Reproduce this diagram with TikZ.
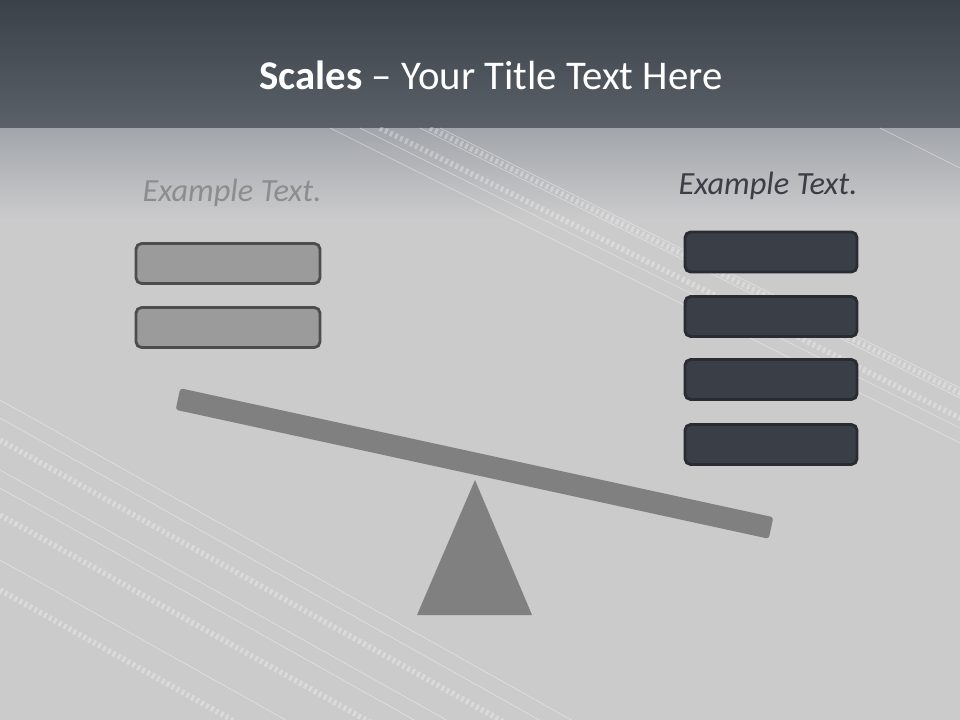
\documentclass[tikz,border=0pt]{standalone}
\usepackage{fontspec}
\setmainfont{Carlito}
\definecolor{titletop}{HTML}{3B4148}
\definecolor{titlebot}{HTML}{5B6169}
\definecolor{bgtop}{HTML}{A2A6AB}
\definecolor{bgmain}{HTML}{CBCBCC}
\definecolor{lightfill}{HTML}{9B9B9B}
\definecolor{lightline}{HTML}{4D4D4D}
\definecolor{darkfill}{HTML}{3A3E46}
\definecolor{darkline}{HTML}{292C31}
\definecolor{scalegray}{HTML}{808080}
\tikzset{
    lightbox/.style={draw=lightline, fill=lightfill, line width=2pt, rounded corners=4pt,
        minimum width=4.6cm, minimum height=1cm, inner sep=0pt},
    darkbox/.style={draw=darkline, fill=darkfill, line width=2pt, rounded corners=4pt,
        minimum width=4.3cm, minimum height=1cm, inner sep=0pt},
    beam/.style={fill=scalegray, rounded corners=2pt, minimum width=15.17cm,
        minimum height=0.55cm, inner sep=0pt},
    streak/.style={white, opacity=0.35, line width=0.6pt},
    tread/.style={white, opacity=0.3, line width=4pt, dash pattern=on 2pt off 2pt}
}
\begin{document}
\begin{tikzpicture}[x=0.025cm, y=-0.025cm]
    % background
    \fill[bgmain] (0,0) rectangle (960,720);
    \shade[top color=bgtop, bottom color=bgmain] (0,128) rectangle (960,220);
    \shade[top color=titletop, bottom color=titlebot] (0,0) rectangle (960,128);
    \begin{scope}
        \clip (0,128) rectangle (960,720);
        \foreach \o in {400,418,470,488,560} {
            \draw[streak] (0,\o) -- ++(700,392);
        }
        \foreach \o in {440,515,590} {
            \draw[tread] (0,\o) -- ++(700,392);
        }
        \foreach \o in {330,360,420,440} {
            \draw[streak] (\o,128) -- ++(700,350);
        }
        \foreach \o in {380,430} {
            \draw[tread] (\o,128) -- ++(700,350);
        }
        \draw[streak] (880,128) -- ++(100,50);
    \end{scope}
    \useasboundingbox (0,0) rectangle (960,720);

    % title
    \node[white, font=\fontsize{29}{34}\selectfont] (title) at (491,75)
        {\textbf{Scales} -- Your Title Text Here};

    % left pan
    \node[font=\fontsize{23}{28}\selectfont\itshape, text=scalegray!90] (ltext) at (232,193) {Example Text.};
    \node[lightbox] (l1) at (228,263.5) {};
    \node[lightbox] (l2) at (228,327.5) {};

    % right pan
    \node[font=\fontsize{23}{28}\selectfont\itshape, text=darkfill] (rtext) at (768,186) {Example Text.};
    \node[darkbox] (r1) at (771,252) {};
    \node[darkbox] (r2) at (771,316.5) {};
    \node[darkbox] (r3) at (771,379.5) {};
    \node[darkbox] (r4) at (771,444.5) {};

    % scale
    \coordinate (apex) at (475,480);
    \coordinate (baseL) at (417,615);
    \coordinate (baseR) at (532,615);
    \fill[scalegray] (apex) -- (baseL) -- (baseR) -- cycle;
    \node[beam, rotate=-12.27] (bar) at (474.5,463.5) {};
\end{tikzpicture}
\end{document}
